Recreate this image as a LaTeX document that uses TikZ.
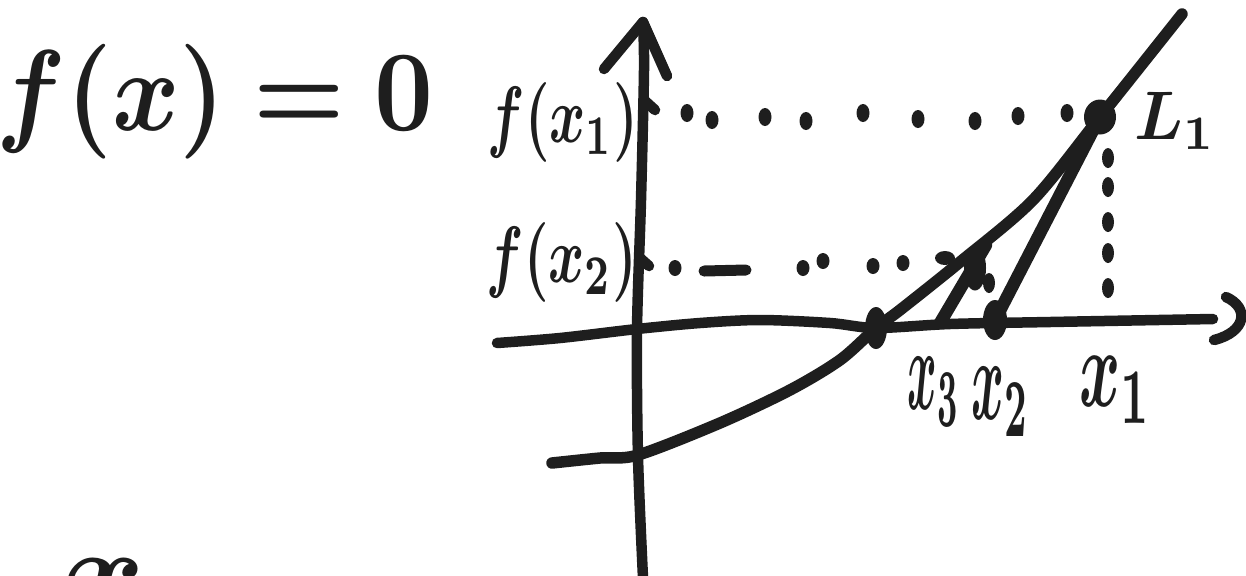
\documentclass[tikz,border=0pt]{standalone}
\usepackage{graphicx}
\usepackage{amsmath}
\usepackage{bm}
\usetikzlibrary{calc}
\definecolor{ink}{HTML}{1E1E1E}
\newcommand{\hw}[3]{\scalebox{#1}[#2]{\fontsize{10}{10}\selectfont$\bm{#3}$}}
\begin{document}
\begin{tikzpicture}[x=0.4pt,y=-0.4pt, line cap=round, line join=round,
  pen/.style={line width=4.6pt, draw=ink},
  axispen/.style={line width=4.2pt, draw=ink},
  hand/.style={inner sep=0pt, text=ink},
  dotblob/.style={fill=ink}]
\useasboundingbox (0,0) rectangle (1246,575);

% ---- key points
\coordinate (ybot) at (643,578);
\coordinate (ytip) at (643,22);
\coordinate (ytipL) at (604,69);
\coordinate (ytipR) at (667,76);
\coordinate (xleft) at (497,343);
\coordinate (xright) at (1213,319);
\coordinate (root) at (876,328);
\coordinate (x3) at (940,323);
\coordinate (x2) at (993,324);
\coordinate (x1) at (1106,322);
\coordinate (P1) at (1100,117);
\coordinate (P2) at (986,245);
\coordinate (cstart) at (552,463);
\coordinate (cend) at (1182,14);

% ---- y axis
\draw[axispen] plot[smooth] coordinates {(ybot) (638,457) (637,330) (641,200) (644,70) (ytip)};
\draw[axispen] (ytipL) -- (ytip) -- (ytipR);
\draw[axispen] (644,100) -- (655,110);
\draw[axispen] (640,258) -- (649,266);

% ---- x axis
\draw[axispen] plot[smooth] coordinates {(xleft) (560,338) (637,329) (700,323) (760,320) (830,323) (root) (950,324) (1050,322) (xright)};
\draw[axispen] (1226,297) .. controls (1250,308) and (1246,332) .. (1214,340);

% ---- curve
\draw[pen] plot[smooth] coordinates {(cstart) (600,458) (638,455) (720,423) (790,390) (840,360) (root) (900,310) (960,262) (1033,200) (P1) (cend)};

% ---- tangents
\draw[pen, line width=5pt] (x2) -- ($(x2)!1.04!(P1)$);
\draw[pen, line width=5pt] (x3) -- (P2);

% ---- blobs on points
\fill[dotblob] (root) ellipse [x radius=4.4pt, y radius=8.4pt];
\fill[dotblob] (995,320) ellipse [x radius=4.8pt, y radius=8pt];
\fill[dotblob] (P1) ellipse [x radius=6.4pt, y radius=7pt];
\fill[dotblob] (975,268) ellipse [x radius=4.4pt, y radius=9pt];
\fill[dotblob] (989,283) ellipse [x radius=2.4pt, y radius=4pt];

% ---- dotted line at f(x1)
\foreach \px/\py in {687/113, 712/120, 765/117, 806/121, 863/113, 918/119, 975/121, 1018/116, 1067/113}
  {\fill[dotblob] (\px,\py) ellipse [x radius=2.6pt, y radius=3.6pt];}

% ---- dotted line at f(x2)
\foreach \px/\py in {675/268, 803/268, 823/261, 873/266, 903/263}
  {\fill[dotblob] (\px,\py) ellipse [x radius=2.6pt, y radius=3.2pt];}
\draw[axispen, line width=4.4pt] (704,271) -- (746,270);
\fill[dotblob] (945,258) ellipse [x radius=4pt, y radius=2.8pt];

% ---- vertical dotted line at x1
\foreach \py in {158, 187, 222, 253, 288}
  {\fill[dotblob] (1108,\py) ellipse [x radius=2.4pt, y radius=4pt];}

% ---- labels
\node[hand] (title) at (215,102) {\hw{4.1}{4.6}{f(x)=0}};
\node[hand] (fxa) at (563,122) {\hw{2.2}{3.2}{f(x_1)}};
\node[hand] (fxb) at (562,262) {\hw{2.2}{3.2}{f(x_2)}};
\node[hand] (lxc) at (934,392) {\hw{1.8}{4.7}{x_3}};
\node[hand] (lxb) at (1001,402) {\hw{2.0}{4.7}{x_2}};
\node[hand] (lxa) at (1116,390) {\hw{2.5}{4.5}{x_1}};
\node[hand] (lone) at (1175,121) {\hw{2.6}{2.75}{L_1}};
\node[hand, anchor=north] (xbot) at (104,558) {\hw{5}{5}{x}};
\end{tikzpicture}
\end{document}
